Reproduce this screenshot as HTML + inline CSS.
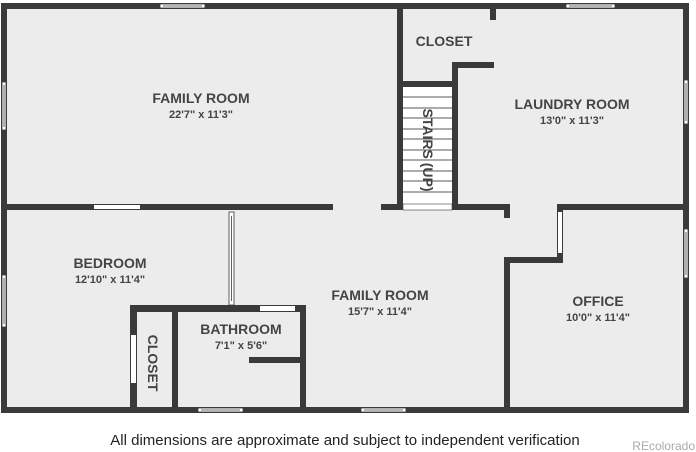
<!DOCTYPE html>
<html><head><meta charset="utf-8"><style>
html,body{margin:0;padding:0;background:#fff;width:696px;height:452px;overflow:hidden}
svg{display:block}
.l{font-family:"Liberation Sans",sans-serif;font-weight:bold;fill:#444;text-anchor:middle}
.t{font-size:14px}.d{font-size:11px}
</style></head><body>
<svg width="696" height="452" viewBox="0 0 696 452">
<rect x="4" y="6" width="682" height="404" fill="#ececec"/>
<g fill="#3a3a3a">
<rect x="1" y="3" width="688" height="6"/>
<rect x="1" y="407" width="688" height="6"/>
<rect x="1" y="3" width="6" height="410"/>
<rect x="683" y="3" width="6" height="410"/>
<rect x="7" y="204" width="326" height="6"/>
<rect x="381" y="204" width="129" height="6"/>
<rect x="504" y="204" width="6" height="14"/>
<rect x="397" y="9" width="6" height="201"/>
<rect x="452" y="62" width="6" height="148"/>
<rect x="403" y="81" width="49" height="6"/>
<rect x="452" y="62" width="42" height="6"/>
<rect x="490" y="9" width="6" height="11"/>
<rect x="557" y="204" width="132" height="6"/>
<rect x="557" y="204" width="6" height="59"/>
<rect x="504" y="257" width="59" height="6"/>
<rect x="504" y="257" width="6" height="156"/>
<rect x="130" y="305" width="176" height="7"/>
<rect x="130" y="305" width="7" height="108"/>
<rect x="172" y="305" width="6" height="108"/>
<rect x="300" y="305" width="6" height="108"/>
<rect x="249" y="357" width="51" height="6"/>
</g>
<rect x="403" y="87" width="49" height="117" fill="#fff"/>
<g stroke="#222" stroke-width="0.8">
<line x1="403" y1="97" x2="452" y2="97"/><line x1="403" y1="108" x2="452" y2="108"/>
<line x1="403" y1="118" x2="452" y2="118"/><line x1="403" y1="129" x2="452" y2="129"/>
<line x1="403" y1="139" x2="452" y2="139"/><line x1="403" y1="150" x2="452" y2="150"/>
<line x1="403" y1="160" x2="452" y2="160"/><line x1="403" y1="171" x2="452" y2="171"/>
<line x1="403" y1="181" x2="452" y2="181"/><line x1="403" y1="192" x2="452" y2="192"/>
</g>
<rect x="403" y="204" width="49" height="6" fill="#fff" stroke="#3a3a3a" stroke-width="0.6"/>
<g fill="#fff">
<rect x="94" y="205" width="46" height="4"/>
<rect x="558" y="212" width="4" height="41"/>
<rect x="260" y="306" width="35" height="5"/>
<rect x="131" y="335" width="5" height="48"/>
</g>
<g fill="#fff" stroke="#3a3a3a" stroke-width="0.8">
<rect x="160" y="4" width="45" height="4"/>
<rect x="566" y="4" width="49" height="4"/>
<rect x="198" y="408" width="45" height="4"/>
<rect x="361" y="408" width="45" height="4"/>
<rect x="2" y="82" width="4" height="48"/>
<rect x="2" y="275" width="4" height="52"/>
<rect x="684" y="80" width="4" height="44"/>
<rect x="684" y="229" width="4" height="49"/>
<rect x="229" y="212" width="5" height="93"/>
</g>
<g stroke="#3a3a3a" stroke-width="0.8">
<line x1="163" y1="6" x2="202" y2="6"/><line x1="569" y1="6" x2="612" y2="6"/>
<line x1="201" y1="410" x2="240" y2="410"/><line x1="364" y1="410" x2="403" y2="410"/>
<line x1="4" y1="85" x2="4" y2="127"/><line x1="4" y1="278" x2="4" y2="324"/>
<line x1="686" y1="83" x2="686" y2="121"/><line x1="686" y1="232" x2="686" y2="275"/>
<line x1="231.5" y1="216" x2="231.5" y2="301"/>
</g>
<text class="l t" x="201" y="103">FAMILY ROOM</text>
<text class="l d" x="201" y="118">22'7" x 11'3"</text>
<text class="l t" x="444" y="46">CLOSET</text>
<text class="l t" x="572" y="109">LAUNDRY ROOM</text>
<text class="l d" x="572" y="124">13'0" x 11'3"</text>
<text class="l t" transform="translate(423,150) rotate(90)">STAIRS (UP)</text>
<text class="l t" x="110" y="268">BEDROOM</text>
<text class="l d" x="110" y="283">12'10" x 11'4"</text>
<text class="l t" x="380" y="300">FAMILY ROOM</text>
<text class="l d" x="380" y="315">15'7" x 11'4"</text>
<text class="l t" x="241" y="334">BATHROOM</text>
<text class="l d" x="241" y="349">7'1" x 5'6"</text>
<text class="l t" transform="translate(148,363) rotate(90)">CLOSET</text>
<text class="l t" x="598" y="306">OFFICE</text>
<text class="l d" x="598" y="321">10'0" x 11'4"</text>
<text x="345" y="445" text-anchor="middle" font-family="Liberation Sans,sans-serif" font-size="15" fill="#222">All dimensions are approximate and subject to independent verification</text>
<text x="695" y="450" text-anchor="end" font-family="Liberation Sans,sans-serif" font-size="12" fill="#aaa">REcolorado</text>
</svg>
</body></html>
